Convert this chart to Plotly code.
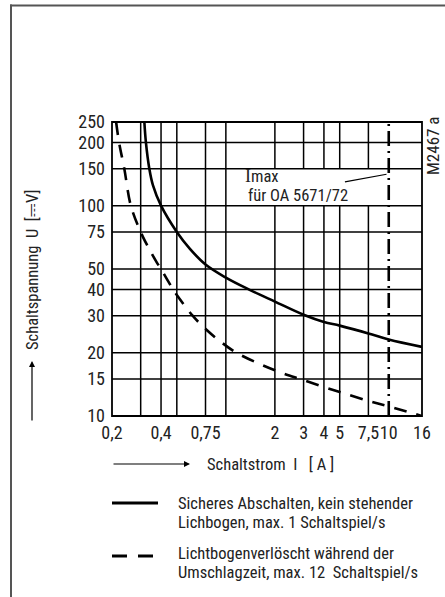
import plotly.graph_objects as go
import math

# ---- data ----
solid_I = [0.316, 0.323, 0.339, 0.357, 0.40, 0.50, 0.60, 0.75, 1.0, 1.4, 2.0, 3.0, 4.0, 5.0, 7.5, 10.0, 16.0]
solid_U = [250, 200, 150, 125, 100, 75, 62.5, 52.5, 45.5, 39.8, 35, 30.3, 28, 26.9, 24.7, 23.1, 21.3]

dashed_I = [0.212, 0.221, 0.238, 0.261, 0.30, 0.33, 0.378, 0.40, 0.47, 0.50, 0.625, 0.76, 0.90, 1.16, 2.0, 3.0, 5.0, 7.5, 10.0, 16.0]
dashed_U = [250, 200, 150, 100, 75, 64.5, 53.5, 50, 40.4, 37.6, 30, 25.7, 23, 20, 16.5, 14.8, 13.0, 11.8, 11.1, 10.0]

imax_I = [10, 10]
imax_U = [10, 250]

x_tickvals = [0.2, 0.4, 0.75, 2, 3, 4, 5, 7.5, 10, 16]
x_ticktext = ["0,2", "0,4", "0,75", "2", "3", "4", "5", "7,5", "10", "16"]
y_tickvals = [10, 15, 20, 30, 40, 50, 75, 100, 150, 200, 250]
y_ticktext = ["10", "15", "20", "30", "40", "50", "75", "100", "150", "200", "250"]

grid_x = [0.3, 0.4, 0.5, 0.75, 1, 2, 3, 4, 5, 7.5]
grid_y = [15, 20, 30, 40, 50, 75, 100, 150, 200]

FONT = "Roboto Condensed, Liberation Sans, sans-serif"
TXT = "#222222"

fig = go.Figure()

fig.add_trace(go.Scatter(x=solid_I, y=solid_U, mode="lines",
                         line=dict(color="black", width=2.6, shape="spline", smoothing=1.0),
                         showlegend=False, hoverinfo="skip"))
fig.add_trace(go.Scatter(x=dashed_I, y=dashed_U, mode="lines",
                         line=dict(color="black", width=2.6, dash="13px,10px", shape="spline", smoothing=1.0),
                         showlegend=False, hoverinfo="skip"))
fig.add_trace(go.Scatter(x=imax_I, y=imax_U, mode="lines",
                         line=dict(color="black", width=2.6, dash="15px,5px,2px,5px"),
                         showlegend=False, hoverinfo="skip"))

shapes = []
for gx in grid_x:
    shapes.append(dict(type="line", xref="x", yref="y", x0=gx, x1=gx, y0=10, y1=250,
                       line=dict(color="black", width=1.5), layer="below"))
# white box behind the Imax label
shapes.append(dict(type="rect", xref="x", yref="y", x0=1.14, x1=8.8, y0=100, y1=150,
                   fillcolor="white", line=dict(width=0), layer="below"))
for gy in grid_y:
    shapes.append(dict(type="line", xref="x", yref="y", x0=0.2, x1=16, y0=gy, y1=gy,
                       line=dict(color="black", width=1.5), layer="below"))
# plot border
shapes.append(dict(type="rect", xref="paper", yref="paper", x0=0, x1=1, y0=0, y1=1,
                   line=dict(color="black", width=1.8), layer="above"))
# leader line
shapes.append(dict(type="line", xref="x", yref="y", x0=5.38, x1=9.69, y0=129.7, y1=141.1,
                   line=dict(color="black", width=1.2)))

W, H = 445, 597
L, R, T, B = 112, 23, 122, 181
pw, ph = W - L - R, H - T - B


def px(x):
    return (x - L) / pw


def py(y):
    return (H - B - y) / ph


# outer frame (grey)
shapes.append(dict(type="line", xref="paper", yref="paper", x0=px(10), x1=px(446), y0=py(5.5), y1=py(5.5),
                   line=dict(color="#555555", width=2)))
shapes.append(dict(type="line", xref="paper", yref="paper", x0=px(11), x1=px(11), y0=py(4.5), y1=py(600),
                   line=dict(color="#555555", width=2)))
# legend samples
shapes.append(dict(type="line", xref="paper", yref="paper", x0=px(112), x1=px(158), y0=py(503), y1=py(503),
                   line=dict(color="black", width=3)))
shapes.append(dict(type="line", xref="paper", yref="paper", x0=px(112), x1=px(127), y0=py(556), y1=py(556),
                   line=dict(color="black", width=3)))
shapes.append(dict(type="line", xref="paper", yref="paper", x0=px(138), x1=px(153), y0=py(556), y1=py(556),
                   line=dict(color="black", width=3)))

NB = "\u00a0"
ann = []


def txt(text, x, y, xanchor="left", size=16.5, angle=0, yanchor="middle"):
    ann.append(dict(text=text, xref="paper", yref="paper", x=px(x), y=py(y), xanchor=xanchor,
                    yanchor=yanchor, showarrow=False, textangle=angle,
                    font=dict(family=FONT, size=size, color=TXT)))


txt('<span style="font-family:Liberation Serif;font-size:18px">I</span>max', 243, 176, size=16.5)
txt("für OA 5671/72", 246, 195.5, size=16.5)
txt("M2467 a", 433, 146, xanchor="center", size=17, angle=-90)
txt("Schaltspannung" + NB * 2 + "U" + NB * 2 + "[⎓V]", 32, 352, xanchor="center", angle=-90, yanchor="bottom")
txt("Schaltstrom" + NB * 2 + "I" + NB * 3 + "[ A ]", 205, 464)
txt("Sicheres Abschalten, kein stehender", 176, 503)
txt("Lichbogen, max. 1 Schaltspiel/s", 176, 522)
txt("Lichtbogenverlöscht während der", 176, 553)
txt("Umschlagzeit, max. 12" + NB * 2 + "Schaltspiel/s", 176, 572)

# arrows
ann.append(dict(text="", xref="paper", yref="paper", x=px(32), y=py(361), ax=0, ay=61,
                showarrow=True, arrowhead=2, arrowsize=1.0, arrowwidth=1.2, arrowcolor="black"))
ann.append(dict(text="", xref="paper", yref="paper", x=px(190), y=py(464), ax=-78, ay=0,
                showarrow=True, arrowhead=2, arrowsize=1.0, arrowwidth=1.2, arrowcolor="black"))

fig.update_layout(
    width=W, height=H, autosize=False,
    margin=dict(l=L, r=R, t=T, b=B, pad=0),
    paper_bgcolor="white", plot_bgcolor="white",
    shapes=shapes, annotations=ann, showlegend=False,
    xaxis=dict(type="log", range=[math.log10(0.2), math.log10(16)], tickvals=x_tickvals, ticktext=x_ticktext,
               showgrid=False, zeroline=False, showline=False, ticks="", ticklabelstandoff=4, tickangle=0,
               tickfont=dict(family=FONT, size=18, color=TXT), fixedrange=True),
    yaxis=dict(type="log", range=[1, math.log10(250)], tickvals=y_tickvals, ticktext=y_ticktext,
               showgrid=False, zeroline=False, showline=False, ticks="", ticklabelstandoff=6,
               tickfont=dict(family=FONT, size=18, color=TXT), fixedrange=True),
)

fig.write_html("out.html", config={"displayModeBar": False},
               post_script="document.body.style.margin='0';document.body.style.overflow='hidden';")
